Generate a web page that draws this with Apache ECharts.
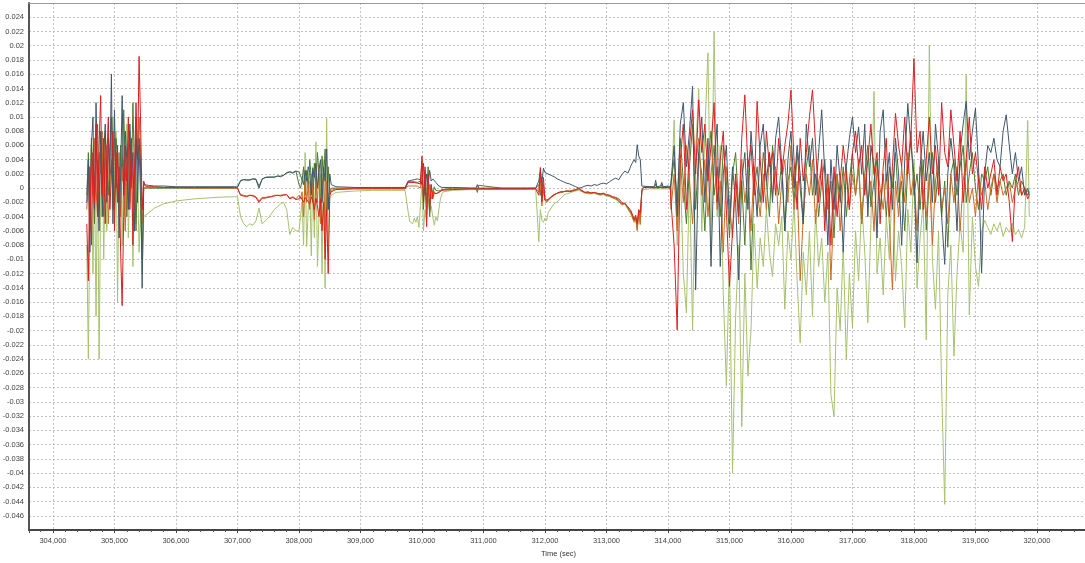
<!DOCTYPE html>
<html><head><meta charset="utf-8">
<script src="https://cdn.jsdelivr.net/npm/echarts@6/dist/echarts.min.js"></script>
<style>html,body{margin:0;padding:0;background:#fff}#c{width:1085px;height:563px}</style>
</head><body><div id="c"></div>
<script>
// Sample times (sec)
const times = [
// A
304550,304575,304600,304625,304650,304675,304700,304725,304750,304775,304800,304825,304850,304875,304900,304925,304950,304975,305000,305025,305050,305075,305100,305125,305150,305175,305200,305225,305250,305275,305300,305325,305350,305375,305400,305425,305450,305475,
// B
305500,305550,305650,305800,306000,306300,306650,306950,
// C
307000,307050,307100,307150,307200,307250,307300,307350,307400,307450,307500,307550,307600,307650,307700,307750,307800,307850,307900,307950,
// D
308000,308025,308050,308075,308100,308125,308150,308175,308200,308225,308250,308275,308300,308325,308350,308375,308400,308425,308450,308475,308500,308525,308550,
// E
308600,308900,309200,309500,309725,
// F
309750,309775,309800,309825,309850,309875,309900,309925,309950,309975,310000,310025,310050,310075,310100,310125,310150,310175,310200,310225,310250,310275,310300,310325,310350,
// G
310500,310800,310880,310900,310920,311300,311600,311850,
// H
311875,311900,311925,311950,311975,312000,312025,312050,
312100,312150,312200,312250,312300,312350,312400,312450,312500,312550,312600,312650,312700,312750,312800,312850,312900,312950,313000,313050,313100,313150,313200,313250,313300,313350,313400,313450,
313475,313500,313525,313550,313575,
// I
313600,313700,313780,313800,313820,313880,313900,313920,314000,314040,
// J
314050,314100,314150,314200,314250,314300,314350,314400,314450,314500,
314550,314600,314650,314700,314750,314800,314850,314900,314950,315000,
315050,315100,315150,315200,315250,315300,315350,315400,315450,315500,
315550,315600,315650,315700,315750,315800,315850,315900,315950,316000,
316050,316100,316150,316200,316250,316300,316350,316400,316450,316500,
316550,316600,316650,316700,316750,316800,316850,316900,316950,317000,
317050,317100,317150,317200,317250,317300,317350,317400,317450,317500,
317550,317600,317650,317700,317750,317800,317850,317900,317950,318000,
318050,318100,318150,318200,318250,318300,318350,318400,318450,318500,
318550,318600,318650,318700,318750,318800,318850,318900,318950,319000,
319050,319100,319150,319200,319250,319300,319350,319400,319450,319500,
319550,319600,319650,319700,319750,319800,319850,319875
];

// Values in thousandths (x 0.001)
const blueVals = [
-2,4,-9,6,10,-3,12,2,-6,8,-4,5,9,-2,7,2,16,-5,11,0,6,-7,2,13,-1,8,4,-3,9,1,5,-6,10,-2,7,3,-14,0.5,
0.6,0.4,0.3,0.3,0.2,0.2,0.2,0.2,
0.2,1.0,1.2,1.1,1.2,1.3,1.2,0.0,1.3,1.5,1.5,1.6,1.5,1.7,1.6,1.8,2.2,2.3,2.1,2.4,
2.3,1.8,2.0,0.5,2.5,1.0,3.0,2.2,-1.0,2.8,1.5,3.5,0.0,2.6,4.0,-2.0,3.0,1.0,5.5,-3.0,2.0,0.5,0.3,
0.2,0.1,0.1,0.1,0.1,
0.1,1.0,1.2,1.1,1.3,1.2,1.1,1.3,1.4,1.2,0.5,3.5,-1.0,2.0,0.5,2.5,1.0,1.3,1.2,0.8,0.6,0.3,0.2,0.1,0.1,
0.1,0,0,0.5,0,0,0,0,
0,1.0,2.5,0.8,2.8,2.2,2.1,2.0,1.8,1.6,1.3,1.1,0.9,0.7,0.6,0.4,0.2,0.0,0.1,0.3,0.4,0.3,0.5,0.4,0.6,0.7,0.6,0.9,1.2,1.4,1.2,1.9,2.4,2.1,3.2,4.0,3.6,6.1,4.5,4.0,0.3,
0.3,0.2,0.2,1.1,0.2,0.3,0.8,0.2,0.3,0.2,
1.0,6.0,-4.0,9.0,12.0,3.0,8.0,14.3,-14.3,5.0,
10.0,-2.0,7.0,-11.0,4.0,9.0,-11.0,2.0,6.0,-5.0,
3.0,-2.0,-12.9,1.0,5.0,-3.0,8.0,2.0,-4.0,6.0,
9.0,1.0,5.0,-2.0,7.0,10.0,3.0,-6.0,4.0,8.0,
0.0,6.0,2.0,-5.0,9.0,3.0,7.0,-1.0,5.0,11.0,
2.0,-8.0,4.0,-3.0,6.0,1.0,-9.0,3.0,7.0,10.0,
5.0,8.6,2.0,9.0,-4.0,6.0,3.0,-7.0,8.0,11.0,
1.0,5.0,-3.0,7.0,2.0,-8.0,4.0,11.9,6.0,2.0,
-10.5,3.0,8.0,1.0,5.0,-2.0,9.0,4.0,-4.0,-10.7,
2.0,7.0,3.0,-6.0,5.0,9.0,12.2,4.0,8.0,11.2,
3.0,-11.9,2.0,6.0,5.0,7.0,4.0,3.0,8.0,10.3,
6.0,2.0,5.0,1.0,3.0,-1.0,0.0,-1.0
];

const redVals = [
-5,-13,3,-8,5,-2,9,-4,6,13,-1,7,-5,4,10,-3,2,8,-6,5,-2,3,-9,-16.5,-4,6,1,10,-3,7,-8,2,12,4,18.5,9,-3,1,
0.3,0.2,0.2,0.1,0.1,0.1,0.1,0.1,
0.0,-1.0,-1.1,-1.2,-1.0,-1.1,-1.3,-2.0,-1.4,-1.4,-1.3,-1.2,-1.1,-1.0,-1.1,-1.0,-0.9,-1.5,-1.3,-1.6,
-1.5,-1.2,-1.4,-2.0,-1.3,-1.6,-1.5,-2.2,-1.2,-1.8,-3.0,-1.4,-2.5,-4.0,-1.5,-6.0,-2.0,-10.0,-3.0,-12.0,-1.0,-0.5,-0.3,
-0.2,-0.1,-0.1,-0.1,-0.1,
0,0.8,0.9,0.8,0.9,0.8,0.9,0.7,0.8,0.6,4.5,-2.0,3.0,-5.4,2.0,-3.0,0.5,-1.5,-0.5,-0.8,-1.0,-0.6,-0.5,-0.3,-0.2,
-0.2,-0.1,-0.1,-0.1,-0.1,-0.1,-0.1,-0.1,
0,-1.0,2.9,-1.9,1.5,-1.7,-1.9,-1.6,-1.2,-0.9,-0.7,-0.5,-0.5,-0.4,-0.5,-0.4,-0.2,0.0,-0.3,-0.6,-0.5,-0.7,-0.6,-0.7,-0.8,-0.7,-0.9,-1.0,-1.2,-1.3,-1.5,-2.0,-2.2,-2.6,-3.2,-4.4,-3.8,-5.0,-3.0,-3.5,-0.3,
0.1,0.1,0.1,0.3,0.1,0.1,0.2,0.1,0.1,0.0,
-2.0,-8.0,-19.9,4.0,9.0,-3.0,6.0,11.0,2.0,12.4,
5.0,9.0,1.0,6.0,12.0,-2.0,4.0,8.0,-3.0,-13.8,
-6.0,2.0,-4.0,7.0,13.1,3.0,6.0,-1.0,12.2,4.0,
-2.0,8.0,3.0,5.0,-1.0,7.0,2.0,6.0,9.0,13.8,
4.0,-3.0,7.0,1.0,5.0,10.0,13.8,6.0,-2.0,4.0,
-6.0,2.0,-8.0,3.0,-4.0,1.0,6.0,2.0,-3.0,5.0,
8.0,3.0,6.0,-1.0,4.0,9.0,2.0,5.0,-5.0,3.0,
7.0,-4.0,3.0,10.5,6.0,3.0,10.0,2.0,7.0,18.2,
5.0,8.0,-3.0,4.0,10.0,2.0,6.0,-1.0,12.0,5.0,
3.0,11.0,6.0,1.0,8.0,-2.0,4.0,10.0,2.0,5.0,
1.0,-3.0,3.0,0.0,2.0,4.0,-1.0,3.0,1.0,2.0,
-2.0,-7.5,1.0,3.0,-1.0,0.0,-1.5,-1.0
];

const orangeVals = [
-3,2,-6,4,-1,7,0,-4,5,2,8,-2,3,6,-5,1,4,-3,7,2,-1,5,-4,3,0,-6,2,6,-2,4,1,-3,7,3,10,5,-5,0,
0.2,0.1,0.1,0.1,0.1,0,0,0,
0.0,-0.9,-1.0,-1.1,-1.0,-1.0,-1.2,-1.8,-1.3,-1.3,-1.2,-1.2,-1.0,-1.0,-1.0,-0.9,-0.9,-1.4,-1.2,-1.5,
-1.0,-1.5,-0.5,-4.0,1.5,-2.0,0.5,-3.0,2.0,-1.0,-4.5,1.0,-2.0,3.0,-5.0,0.0,2.5,-6.0,1.0,-3.0,0.0,-0.5,-0.2,
-0.1,0,0,0,0,
0,0.3,0.4,0.3,0.2,0.3,0.4,0.3,0.2,0.0,2.0,-1.0,1.0,-3.0,-1.0,0.5,-1.5,-0.5,-0.8,-0.6,-0.7,-0.5,-0.4,-0.3,-0.2,
-0.1,-0.1,-0.1,-0.1,-0.1,-0.1,-0.1,0,
0,-0.5,1.5,-2.5,0.5,-1.5,-2.0,-1.8,-1.3,-1.0,-0.7,-0.6,-0.5,-0.4,-0.4,-0.3,-0.2,-0.1,-0.4,-0.6,-0.7,-0.7,-0.6,-0.8,-0.9,-0.8,-1.0,-1.1,-1.3,-1.5,-1.8,-2.3,-2.1,-2.9,-3.6,-4.7,-4.2,-5.9,-3.4,-5.0,-0.4,
0.1,0.1,0,0.1,0.1,0.1,0.1,0,0.1,0,
-3.0,2.0,-6.0,4.0,-2.0,6.0,1.0,-5.0,3.0,7.0,
-1.0,4.0,-4.0,2.0,6.0,-3.0,1.0,-9.0,3.0,-2.0,
-7.0,1.0,-5.0,4.0,-2.0,2.0,-6.0,3.0,0.0,-4.0,
2.0,-3.0,5.0,-1.0,3.0,-5.0,1.0,4.0,-2.0,6.0,
-3.0,1.0,-13.0,-4.0,2.0,-1.0,4.0,-5.0,1.0,3.0,
-4.0,0.0,-12.9,-2.0,2.0,-6.0,1.0,3.0,-3.0,2.0,
-1.0,4.0,-5.0,2.0,-2.0,1.0,-6.0,3.0,0.0,-3.0,
2.0,-5.0,-14.3,1.0,-4.0,3.0,-2.0,5.0,-1.0,2.0,
-6.0,3.0,0.0,-4.0,2.0,-8.0,1.0,4.0,-3.0,0.0,
-5.0,2.0,-2.0,3.0,-6.0,1.0,4.0,-2.0,0.0,-4.0,
2.0,-1.0,1.0,-3.0,0.0,2.0,-2.0,1.0,-1.0,0.0,
1.0,-2.0,0.0,1.0,-1.0,0.0,-0.5,-0.5
];

const darkGreenVals = [
-1,5,-3,7,2,-5,4,9,-2,6,1,-4,8,3,-1,5,10,2,-3,7,4,-2,6,1,11,3,-4,5,8,0,12,2,-6,4,6,-2,-10,0,
0.1,0,0,0,0,0,0,0,
0.1,1.1,1.2,1.2,1.1,1.3,1.3,0.3,1.2,1.5,1.6,1.5,1.6,1.7,1.7,1.8,2.1,2.3,2.2,2.4,
0.5,0.0,1.0,3.0,-1.0,2.5,0.0,4.0,1.5,-2.0,3.5,0.0,5.0,2.0,-3.0,4.5,1.0,5.5,-4.0,3.0,-1.0,0.0,0.0,
0,0,0,0,0,
0,0.9,1.0,0.9,1.0,0.9,1.0,0.8,0.9,1.0,3.8,-3.0,2.5,-2.0,3.0,-4.0,0.5,-1.0,0.2,-0.3,-0.5,-0.4,-0.3,-0.2,-0.1,
0,0,0,-0.6,0.4,0,0,0,
0,0.5,-1.0,1.0,-0.5,-1.6,-1.9,-1.7,-1.2,-0.9,-0.7,-0.6,-0.5,-0.4,-0.4,-0.3,-0.3,-0.1,-0.4,-0.6,-0.6,-0.7,-0.6,-0.8,-0.8,-0.8,-1.0,-1.0,-1.3,-1.4,-1.7,-2.2,-2.1,-2.8,-3.4,-4.5,-4.0,-5.5,-3.2,-4.2,-0.3,
0.1,0.2,0.1,0.6,0,0.1,0.5,0.1,0.2,0,
0.0,4.0,-2.0,7.0,1.0,-5.0,3.0,9.0,-3.0,5.0,
2.0,-6.0,4.0,8.0,-1.0,3.0,-4.0,6.0,1.0,-7.0,
2.0,5.0,-3.0,1.0,-8.0,4.0,-11.5,0.0,3.0,-2.0,
5.0,1.0,-4.0,6.0,2.0,-1.0,4.0,-6.0,1.0,3.0,
-2.0,5.0,0.0,-5.0,3.0,6.0,-1.0,2.0,-4.0,1.0,
4.0,-3.0,1.0,-7.0,2.0,-2.0,3.0,-4.0,1.0,5.0,
-1.0,3.0,-5.0,2.0,6.0,-2.6,1.0,4.0,-3.0,2.0,
-4.0,3.0,0.0,5.0,-2.0,1.0,-6.0,3.0,8.0,-1.0,
2.0,-3.0,4.0,-5.9,1.0,5.0,-2.0,3.0,-4.0,1.0,
-8.3,2.0,4.0,-1.0,3.0,6.0,-2.0,2.0,5.0,0.0,
-3.0,2.0,1.0,3.0,-1.0,2.0,0.0,1.0,2.0,-1.0,
1.0,0.0,2.0,-1.0,1.0,0.0,-1.0,-0.5
];

const lightGreenVals = [
-8,-24,-4,6,-12,2,-18,4,-24,-2,7,-10,3,-6,9,-1,5,10,-4,8,-16,2,6,-8,4,-3,9,-7,1,5,-11,3,-5,2,-9,-3,-12,-4,
-4.2,-3.5,-2.8,-2.2,-1.8,-1.5,-1.3,-1.2,
-1.2,-4.0,-5.0,-5.4,-5.0,-5.2,-4.6,-2.8,-5.0,-4.6,-4.2,-3.6,-3.0,-2.6,-2.2,-2.0,-3.0,-6.5,-5.5,-6.0,
-6.0,-4.0,-2.0,-8.0,5.0,-8.2,-3.0,1.0,-9.5,3.0,-7.0,6.5,-11.0,-4.0,2.0,-12.0,4.0,-14.0,9.8,-9.0,-1.5,-1.0,-1.0,
-0.6,-0.4,-0.3,-0.3,-0.3,
-0.4,-3.3,-4.7,-4.5,-5.0,-4.2,-4.8,-4.0,-5.5,-2.5,1.0,-6.0,-3.0,-4.5,-1.5,-3.5,-2.5,-4.0,-5.2,-4.0,-4.6,-3.0,-1.5,-0.8,-0.5,
-0.3,-0.2,-0.2,-0.2,-0.2,-0.2,-0.2,-0.2,
-0.3,-7.5,-3.0,-4.5,-4.8,-4.2,-4.6,-3.5,-2.8,-2.2,-1.9,-1.5,-1.0,-0.8,-0.7,-0.5,-0.4,-0.3,-0.5,-0.7,-0.8,-0.8,-0.7,-0.9,-1.0,-0.9,-1.1,-1.2,-1.4,-1.6,-1.9,-2.4,-2.2,-3.0,-3.7,-4.8,-4.3,-6.0,-3.5,-5.2,-0.5,
-0.2,-0.1,-0.1,-0.1,-0.1,-0.1,-0.1,-0.1,-0.1,-0.2,
-2.0,9.6,-8.0,3.0,-12.0,-17.5,2.0,-20.0,5.0,13.9,
-6.0,8.0,19.0,-9.0,22.0,-4.0,6.0,-15.0,-27.8,-10.0,
-40.0,-18.0,-8.0,-33.5,-12.0,-26.4,-20.0,-5.0,-14.0,-7.0,
-11.0,-3.0,-9.0,-12.4,-5.0,-8.0,-4.0,-17.0,-6.0,-10.0,
-2.0,-13.0,-21.7,-9.0,-15.0,-6.0,-18.0,-3.0,-11.0,-7.0,
-16.0,-9.0,-29.0,-32.0,-14.0,-20.0,-8.0,-24.0,-12.0,-19.6,
-6.0,-13.0,-2.0,-9.0,-18.9,-5.0,13.6,-12.0,-7.0,-15.0,
-4.0,-10.0,2.0,-13.0,-6.0,-11.0,-19.6,-3.0,-9.0,4.0,
-14.0,-7.0,-2.0,-21.3,20.1,-10.0,-17.0,-6.0,-28.0,-44.4,
-15.0,-8.0,-23.6,-12.0,-5.0,-9.0,15.9,-17.8,-4.0,-11.0,
-13.8,-6.0,-4.5,-5.5,-6.5,-5.0,-6.0,-4.8,-6.8,-5.5,
-6.2,-4.9,-6.5,-5.8,-7.0,-5.5,9.5,-4.0
];

const seriesDefs = [
  {name: 'Light green', vals: lightGreenVals, color: '#a6c36e'},
  {name: 'Dark green', vals: darkGreenVals, color: '#4c7d2c'},
  {name: 'Orange', vals: orangeVals, color: '#cf6a22'},
  {name: 'Blue', vals: blueVals, color: '#3f586e'},
  {name: 'Red', vals: redVals, color: '#dc1f1f'}
];
seriesDefs.forEach(s => { if (s.vals.length !== times.length) throw new Error(s.name + ' length ' + s.vals.length + ' vs ' + times.length); });

const yMin = -0.048, yMax = 0.026, yStep = 0.002;
const xMin = 303610, xMax = 320830;

const chart = echarts.init(document.getElementById('c'), null, {renderer: 'canvas'});
const font = 'Liberation Sans, Arial, sans-serif';
const gridLine = {show: true, lineStyle: {color: '#c2c2c2', type: [2, 2], width: 1}};
chart.setOption({
  animation: false,
  backgroundColor: '#ffffff',
  grid: {left: 29, right: -3, top: 3, bottom: 33, containLabel: false, outerBoundsMode: 'none'},
  xAxis: [{
    type: 'value', min: xMin, max: xMax, splitNumber: 17,
    name: 'Time (sec)', nameLocation: 'middle', nameGap: 15,
    nameTextStyle: {fontSize: 7.5, color: '#333', fontFamily: font},
    axisLine: {show: true, onZero: false, lineStyle: {color: '#444', width: 2}},
    axisTick: {show: true, length: 3, lineStyle: {color: '#444'}},
    minorTick: {show: true, splitNumber: 5, length: 2, lineStyle: {color: '#555'}},
    axisLabel: {fontSize: 7.5, color: '#444', fontFamily: font, margin: 7, showMinLabel: false, showMaxLabel: false,
      formatter: v => Math.round(v).toLocaleString('en-US')},
    splitLine: gridLine
  }, {
    type: 'value', min: xMin, max: xMax, position: 'top',
    axisLine: {show: true, onZero: false, lineStyle: {color: '#999', width: 1}},
    axisTick: {show: false}, axisLabel: {show: false}, splitLine: {show: false}
  }],
  yAxis: {
    type: 'value', min: yMin, max: yMax, interval: yStep,
    axisLine: {show: true, onZero: false, lineStyle: {color: '#555', width: 2}},
    axisTick: {show: false},
    axisLabel: {fontSize: 7.5, color: '#444', fontFamily: font, margin: 5, showMinLabel: false, showMaxLabel: false,
      formatter: v => String(Math.round(v * 1000) / 1000)},
    splitLine: gridLine
  },
  series: seriesDefs.map(s => ({
    name: s.name, type: 'line', xAxisIndex: 0, showSymbol: false, symbol: 'none',
    lineStyle: {width: 1, color: s.color}, itemStyle: {color: s.color},
    data: times.map((t, i) => [t, s.vals[i] / 1000])
  }))
});
</script></body></html>
